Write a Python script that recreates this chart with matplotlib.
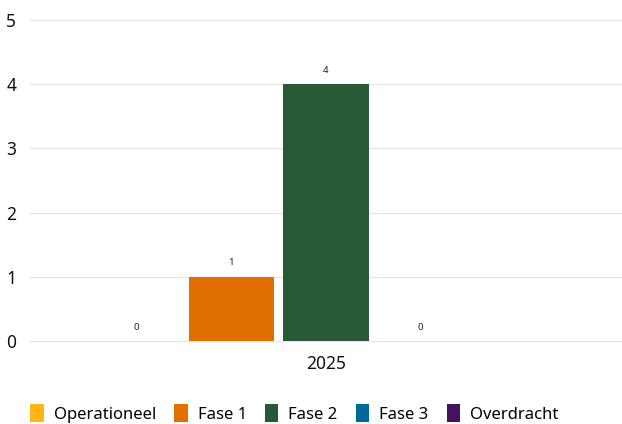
import numpy as np
import matplotlib.pyplot as plt
from matplotlib.patches import Patch

plt.rcParams['font.family'] = ['Noto Sans', 'DejaVu Sans']

categories = ['2025']
series = ['Operationeel', 'Fase 1', 'Fase 2', 'Fase 3', 'Overdracht']
values = [0, 1, 4, 0, None]
colors = ['#FFB612', '#E17000', '#275937', '#01689B', '#42145F']

fig = plt.figure(figsize=(6.22, 4.24), dpi=100)
ax = fig.add_axes([30 / 622, 1 - 341 / 424, 592 / 622, 321 / 424])

slot = 0.8 / len(series)
x = np.arange(len(categories))
for i, (name, val, col) in enumerate(zip(series, values, colors)):
    pos = x + (i - (len(series) - 1) / 2) * slot
    if val is None:
        continue
    ax.bar(pos, [val], width=slot * 0.9, color=col, zorder=3)
    for p in pos:
        ax.annotate(str(val), (p, val), xytext=(0, 10), textcoords='offset points',
                    ha='center', va='center', fontsize=7, color='#222222')

ax.set_xlim(-0.5, 0.5)
ax.set_ylim(0, 5)
ax.set_yticks(range(6))
ax.set_xticks(x)
ax.set_xticklabels(categories)
ax.grid(axis='y', color='#e6e6e6', linewidth=1, zorder=0)
for l in ax.get_ygridlines():
    l.set_clip_on(False)
for s in ax.spines.values():
    s.set_visible(False)
ax.tick_params(length=0, labelsize=12.5, colors='#111111')
ax.tick_params(axis='x', pad=10)
ax.tick_params(axis='y', pad=17)
for lbl in ax.get_yticklabels():
    lbl.set_horizontalalignment('left')

handles = [Patch(facecolor=c, label=n) for n, c in zip(series, colors)]
fig.legend(handles=handles, loc='lower left', bbox_to_anchor=(0.03, -0.025), ncol=5,
           frameon=False, fontsize=12, handlelength=0.8, handleheight=1.3,
           handletextpad=0.6, columnspacing=1.1, borderaxespad=0.3)

fig.savefig('out.png', dpi=100)
